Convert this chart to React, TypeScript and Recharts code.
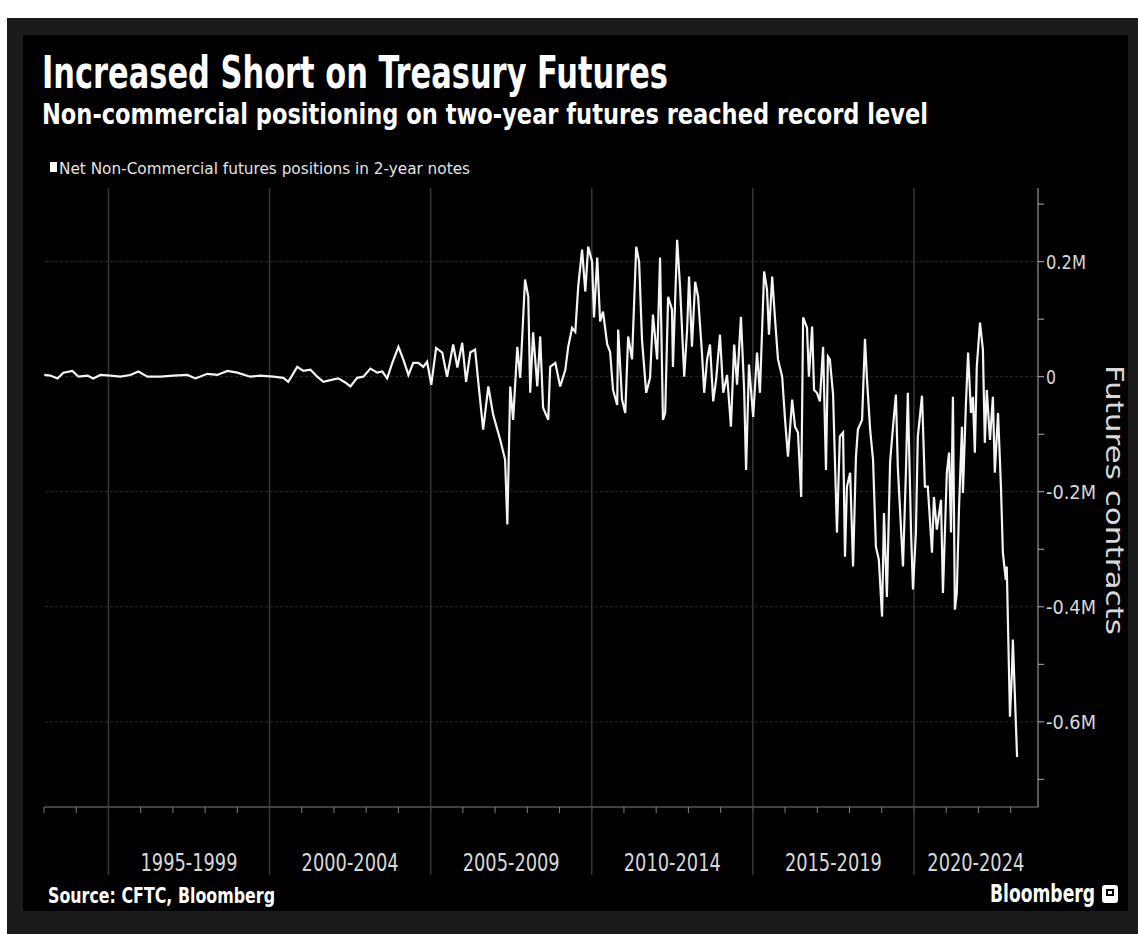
import React from "react";
import { LineChart, Line, XAxis, YAxis, ReferenceLine } from "recharts";

// decimal years
const years = [
  1993.01, 1993.2, 1993.42, 1993.6, 1993.88, 1994.07, 1994.35, 1994.53, 1994.75, 1995.06,
  1995.37, 1995.68, 1995.93, 1996.21, 1996.61, 1997.02, 1997.45, 1997.7, 1998.07, 1998.38,
  1998.69, 1999.0, 1999.4, 1999.71, 2000.12, 2000.43, 2000.58, 2000.86, 2001.05, 2001.27,
  2001.48, 2001.67, 2001.95, 2002.13, 2002.35, 2002.51, 2002.72, 2002.91, 2003.13, 2003.34,
  2003.5, 2003.65, 2003.81, 2004.0, 2004.15, 2004.31, 2004.46, 2004.62, 2004.77, 2004.89,
  2005.02, 2005.17, 2005.36, 2005.51, 2005.7, 2005.83, 2005.98, 2006.1, 2006.23, 2006.38,
  2006.48, 2006.63, 2006.79, 2006.94, 2007.16, 2007.31, 2007.38, 2007.47, 2007.56, 2007.69,
  2007.78, 2007.93, 2008.03, 2008.09, 2008.18, 2008.31, 2008.4, 2008.49, 2008.65, 2008.71,
  2008.87, 2009.02, 2009.18, 2009.27, 2009.39, 2009.49, 2009.58, 2009.7, 2009.8, 2009.89,
  2010.01, 2010.07, 2010.17, 2010.26, 2010.35, 2010.48, 2010.57, 2010.66, 2010.79, 2010.82,
  2010.94, 2011.04, 2011.13, 2011.25, 2011.38, 2011.47, 2011.56, 2011.69, 2011.81, 2011.9,
  2012.03, 2012.12, 2012.21, 2012.28, 2012.37, 2012.49, 2012.52, 2012.65, 2012.74, 2012.87,
  2012.96, 2013.02, 2013.11, 2013.21, 2013.3, 2013.42, 2013.49, 2013.58, 2013.67, 2013.77,
  2013.86, 2013.98, 2014.08, 2014.2, 2014.32, 2014.42, 2014.51, 2014.63, 2014.73, 2014.79,
  2014.88, 2015.01, 2015.13, 2015.22, 2015.35, 2015.44, 2015.5, 2015.6, 2015.69, 2015.78,
  2015.91, 2016.0, 2016.09, 2016.22, 2016.31, 2016.4, 2016.5, 2016.56, 2016.68, 2016.74,
  2016.84, 2016.9, 2016.99, 2017.08, 2017.18, 2017.27, 2017.33, 2017.39, 2017.49, 2017.61,
  2017.7, 2017.8, 2017.86, 2017.92, 2018.02, 2018.11, 2018.2, 2018.26, 2018.39, 2018.48,
  2018.54, 2018.64, 2018.73, 2018.82, 2018.91, 2019.01, 2019.07, 2019.16, 2019.26, 2019.35,
  2019.44, 2019.5, 2019.6, 2019.66, 2019.75, 2019.81, 2019.91, 2019.97, 2020.06, 2020.12,
  2020.25, 2020.34, 2020.43, 2020.56, 2020.62, 2020.71, 2020.84, 2020.9, 2021.02, 2021.09,
  2021.15, 2021.21, 2021.27, 2021.33, 2021.4, 2021.49, 2021.52, 2021.61, 2021.68, 2021.77,
  2021.83, 2021.89, 2021.95, 2022.05, 2022.14, 2022.2, 2022.26, 2022.36, 2022.45, 2022.51,
  2022.61, 2022.7, 2022.76, 2022.85, 2022.88, 2022.98, 2023.04, 2023.07, 2023.13, 2023.2,
];

// net non-commercial positions, thousands of contracts
const positions = [
  3, 2, -3, 7, 10, 0, 2, -3, 3, 2,
  0, 3, 9, 0, 0, 2, 3, -3, 5, 3,
  10, 7, 0, 2, 0, -2, -9, 17, 10, 12,
  0, -9, -5, -3, -10, -17, -2, 0, 14, 7,
  9, -3, 24, 52, 30, 3, 24, 24, 17, 26,
  -14, 50, 42, 0, 56, 16, 59, -9, 42, 47,
  -10, -92, -17, -66, -110, -144, -257, -17, -75, 52,
  -2, 169, 139, -28, 77, -17, 70, -54, -75, 17,
  24, -17, 12, 52, 85, 78, 157, 221, 148, 226,
  200, 103, 207, 96, 113, 56, 43, -23, -49, 82,
  -40, -63, 70, 30, 226, 200, 64, -28, -2, 108,
  30, 207, -75, -63, 139, 117, 17, 238, 157, 0,
  82, 174, 52, 165, 139, 42, -28, 30, 56, -43,
  -5, 73, -28, 3, -87, 56, -14, 104, -23, -162,
  21, -70, 42, -28, 183, 151, 73, 174, 99, 30,
  0, -75, -139, -40, -87, -97, -209, 103, 85, 0,
  87, -23, -28, -43, 52, -162, 35, 30, -31, -271,
  -104, -97, -313, -191, -167, -330, -139, -92, -75, 66,
  -2, -92, -144, -296, -318, -417, -237, -383, -148, -87,
  -31, -158, -266, -330, -167, -28, -271, -370, -271, -104,
  -33, -191, -191, -306, -209, -266, -214, -376, -167, -132,
  -271, -35, -405, -376, -226, -87, -202, -52, 42, -63,
  -35, -132, 17, 94, 47, -115, -23, -110, -35, -167,
  -63, -191, -306, -353, -330, -591, -515, -457, -550, -661,
];

const periodLabels = ["1995-1999", "2000-2004", "2005-2009", "2010-2014", "2015-2019", "2020-2024"];
const periodCenters = [1997.5, 2002.5, 2007.5, 2012.5, 2017.5, 2021.92];
const separators = [1995, 2000, 2005, 2010, 2015, 2020];
const yearTicks = [
  1993, 1994, 1995, 1996, 1997, 1998, 1999, 2000, 2001, 2002, 2003, 2004, 2005, 2006, 2007,
  2008, 2009, 2010, 2011, 2012, 2013, 2014, 2015, 2016, 2017, 2018, 2019, 2020, 2021, 2022, 2023,
];
const yTicks = [-700, -600, -500, -400, -300, -200, -100, 0, 100, 200, 300];
const gridValues = [-600, -400, -200, 0, 200];

const data = years.map((year, i) => ({ year, value: positions[i] }));

const FONT = '"Liberation Sans Narrow", "DejaVu Sans Condensed", "Liberation Sans", sans-serif';

function YTick(props: any) {
  const { x, y, payload } = props;
  const v = payload.value;
  if (v % 200 !== 0) return null;
  const label = v === 0 ? "0" : `${v / 1000}M`;
  // Bloomberg's face is narrow; squeeze each label to roughly its width
  return (
    <text x={x} y={y} dy={7} fill="#d8d8d8" fontSize={20} fontFamily={FONT}
      textLength={label.length * 10} lengthAdjust="spacingAndGlyphs">
      {label}
    </text>
  );
}

// 5-year separators continue down through the label band
function YearTick(props: any) {
  const { x, y, payload } = props;
  if (payload.value % 5 !== 0) return null;
  return <line x1={x} x2={x} y1={y - 8} y2={y + 60} stroke="#363636" strokeWidth={1.5} />;
}

function PeriodTick(props: any) {
  const { x, y, index } = props;
  return (
    <text x={x} y={y} dy={48} textAnchor="middle" fill="#d8d8d8" fontSize={24} fontFamily={FONT}
      textLength={97} lengthAdjust="spacingAndGlyphs">
      {periodLabels[index]}
    </text>
  );
}

export default function App() {
  return (
    <div>
      <div style={{ position: "absolute", left: 7, top: 18, width: 1131, height: 916, background: "#1b1b1b" }} />
      <div style={{ position: "absolute", left: 23, top: 35, width: 1105, height: 876, background: "#000" }} />

      <div style={{ position: "absolute", left: 22, top: 35 }}>
        <LineChart
          width={1106}
          height={875}
          data={data}
          margin={{ top: 153, right: 30, left: 22, bottom: 35 }}
        >
          {gridValues.map((v) => (
            <ReferenceLine key={`h${v}`} y={v} stroke="#2a2a2a" strokeDasharray="3 2" />
          ))}
          {separators.map((s) => (
            <ReferenceLine key={`v${s}`} x={s} stroke="#363636" strokeWidth={1.5} />
          ))}

          <XAxis
            dataKey="year"
            type="number"
            domain={[1993, 2023.85]}
            allowDataOverflow
            ticks={yearTicks}
            interval={0}
            height={8}
            tickSize={6}
            axisLine={{ stroke: "#808080" }}
            tickLine={{ stroke: "#808080" }}
            tick={<YearTick />}
          />
          <XAxis
            xAxisId="period"
            dataKey="year"
            type="number"
            domain={[1993, 2023.85]}
            allowDataOverflow
            ticks={periodCenters}
            interval={0}
            height={60}
            axisLine={false}
            tickLine={false}
            tick={<PeriodTick />}
          />
          <YAxis
            orientation="right"
            type="number"
            domain={[-748, 328]}
            allowDataOverflow
            ticks={yTicks}
            interval={0}
            width={60}
            tickSize={6}
            axisLine={{ stroke: "#b0b0b0" }}
            tickLine={{ stroke: "#b0b0b0" }}
            tick={<YTick />}
          />

          <Line
            type="linear"
            dataKey="value"
            stroke="#f4f4f4"
            strokeWidth={2.2}
            dot={false}
            isAnimationActive={false}
          />
        </LineChart>
      </div>

      <svg
        width={1138}
        height={934}
        style={{ position: "absolute", left: 0, top: 0, pointerEvents: "none" }}
      >
        <text x={42} y={88} fill="#fff" fontSize={44} fontWeight="bold" fontFamily={FONT}
          textLength={626} lengthAdjust="spacingAndGlyphs">
          Increased Short on Treasury Futures
        </text>
        <text x={42} y={124} fill="#fff" fontSize={29} fontWeight="bold" fontFamily={FONT}
          textLength={886} lengthAdjust="spacingAndGlyphs">
          Non-commercial positioning on two-year futures reached record level
        </text>
        <rect x={50} y={162} width={7} height={10} fill="#fff" />
        <text x={59} y={174} fill="#e4e4e4" fontSize={16} fontFamily={FONT}
          textLength={411} lengthAdjust="spacingAndGlyphs">
          Net Non-Commercial futures positions in 2-year notes
        </text>
        <text x={1106} y={500} transform="rotate(90 1106 500)" textAnchor="middle" fill="#d8d8d8"
          fontSize={25} fontFamily={FONT} textLength={270} lengthAdjust="spacingAndGlyphs">
          Futures contracts
        </text>
        <text x={48} y={903} fill="#fff" fontSize={21} fontWeight="bold" fontFamily={FONT}
          textLength={227} lengthAdjust="spacingAndGlyphs">
          Source: CFTC, Bloomberg
        </text>
        <text x={990} y={902} fill="#fff" fontSize={24} fontWeight="bold" fontFamily={FONT}
          textLength={105} lengthAdjust="spacingAndGlyphs">
          Bloomberg
        </text>
        <rect x={1102} y={885} width={16} height={18} rx={3} fill="#fff" />
        <rect x={1106} y={889} width={8} height={7} fill="#000" />
        <rect x={1108} y={891} width={4} height={3} fill="#fff" />
      </svg>
    </div>
  );
}
